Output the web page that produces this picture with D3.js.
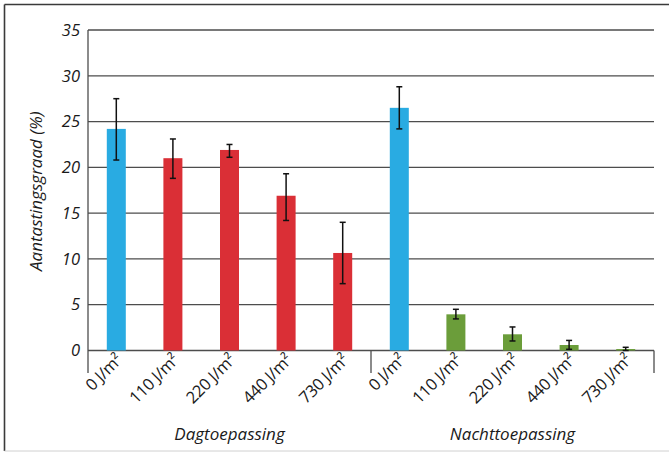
<!DOCTYPE html>
<html><head><meta charset="utf-8">
<script src="https://cdn.jsdelivr.net/npm/d3@7"></script>
<style>
html,body{margin:0;padding:0;background:#fff;}
svg{display:block;}
text{font-family:"Open Sans","Noto Sans",sans-serif;fill:#1a1a1a;}
</style></head>
<body>
<svg id="chart" width="669" height="452"></svg>
<script>
const doses = ["0 J/m²","110 J/m²","220 J/m²","440 J/m²","730 J/m²"];
const groups = ["Dagtoepassing","Nachttoepassing"];
const dayValues = [24.2, 21.0, 21.9, 16.9, 10.65];
const dayLow    = [20.8, 18.8, 21.1, 14.2, 7.3];
const dayHigh   = [27.5, 23.1, 22.5, 19.3, 14.0];
const nightValues = [26.5, 3.95, 1.77, 0.6, 0.16];
const nightLow    = [24.2, 3.45, 1.04, 0.13, 0.0];
const nightHigh   = [28.8, 4.5, 2.57, 1.1, 0.35];
const yTicks = [0,5,10,15,20,25,30,35];
const yTitle = "Aantastingsgraad (%)";

const colControl = "#29abe2", colDay = "#da2f36", colNight = "#6b9d3a";

const rows = [];
groups.forEach((g, gi) => {
  const v = gi === 0 ? dayValues : nightValues;
  const lo = gi === 0 ? dayLow : nightLow;
  const hi = gi === 0 ? dayHigh : nightHigh;
  doses.forEach((d, i) => rows.push({
    key: g + "|" + d, group: g, gi, dose: d, i, value: v[i], low: lo[i], high: hi[i],
    color: i === 0 ? colControl : (gi === 0 ? colDay : colNight)
  }));
});

const svg = d3.select("#chart");
const pLeft = 88, pRight = 654, pTop = 30, pBottom = 350.5;

const x = d3.scaleBand().domain(rows.map(r => r.key)).range([pLeft, pRight]).padding(0);
const y = d3.scaleLinear().domain([0, 35]).range([pBottom, pTop]);

// outer frame
svg.append("line").attr("x1",4.5).attr("x2",669).attr("y1",4.5).attr("y2",4.5).attr("stroke","#3a3a3a").attr("stroke-width",1.6);
svg.append("line").attr("x1",4.5).attr("x2",4.5).attr("y1",4.5).attr("y2",451).attr("stroke","#3a3a3a").attr("stroke-width",1.6);
svg.append("line").attr("x1",4.5).attr("x2",669).attr("y1",451).attr("y2",451).attr("stroke","#d0d0d0").attr("stroke-width",1);

// gridlines
svg.append("g").selectAll("line").data(yTicks).join("line")
  .attr("x1", pLeft).attr("x2", pRight)
  .attr("y1", d => y(d)).attr("y2", d => y(d))
  .attr("stroke", "#4d4d4d").attr("stroke-width", 1.3);

// y axis
const yAxis = svg.append("g").attr("transform", `translate(${pLeft},0)`)
  .call(d3.axisLeft(y).tickValues(yTicks).tickSize(0).tickPadding(8));
yAxis.select(".domain").remove();
yAxis.selectAll("text").attr("font-size", 16.5).attr("font-style","italic")
  .style("font-family","'Open Sans',sans-serif").attr("fill","#1a1a1a");

// vertical axis line & group separators
const sepXs = [pLeft, x(rows[5].key), pRight];
svg.append("g").selectAll("line").data(sepXs).join("line")
  .attr("x1", d => d).attr("x2", d => d)
  .attr("y1", (d, i) => i === 0 ? pTop : pBottom).attr("y2", 373)
  .attr("stroke", "#4d4d4d").attr("stroke-width", 1.3);

// bars
const bw = 19;
svg.append("g").selectAll("rect").data(rows).join("rect")
  .attr("x", d => x(d.key) + x.bandwidth()/2 - bw/2)
  .attr("width", bw)
  .attr("y", d => y(d.value))
  .attr("height", d => y(0) - y(d.value))
  .attr("fill", d => d.color);

// error bars
const eg = svg.append("g").attr("stroke", "#111").attr("stroke-width", 1.5);
rows.forEach(d => {
  const cx = x(d.key) + x.bandwidth()/2;
  eg.append("line").attr("x1", cx).attr("x2", cx).attr("y1", y(d.high)).attr("y2", y(d.low));
  eg.append("line").attr("x1", cx-3).attr("x2", cx+3).attr("y1", y(d.high)).attr("y2", y(d.high));
  eg.append("line").attr("x1", cx-3).attr("x2", cx+3).attr("y1", y(d.low)).attr("y2", y(d.low));
});

// x labels
svg.append("g").selectAll("text").data(rows).join("text")
  .attr("transform", d => `translate(${x(d.key) + x.bandwidth()/2 + 7},${361}) rotate(-45)`)
  .attr("text-anchor", "end")
  .attr("font-size", 16.5)
  .attr("letter-spacing", -0.3)
  .text(d => d.dose);

// group labels
svg.append("g").selectAll("text").data(groups).join("text")
  .attr("x", (g, gi) => (x(rows[gi*5].key) + x(rows[gi*5+4].key) + x.bandwidth())/2)
  .attr("y", 440)
  .attr("text-anchor", "middle")
  .attr("font-size", 17).attr("font-style", "italic")
  .text(d => d);

// y title
svg.append("text")
  .attr("transform", `translate(42,${(pTop+pBottom)/2 + 1}) rotate(-90)`)
  .attr("text-anchor", "middle")
  .attr("font-size", 17).attr("font-style", "italic")
  .text(yTitle);
</script>
</body></html>
